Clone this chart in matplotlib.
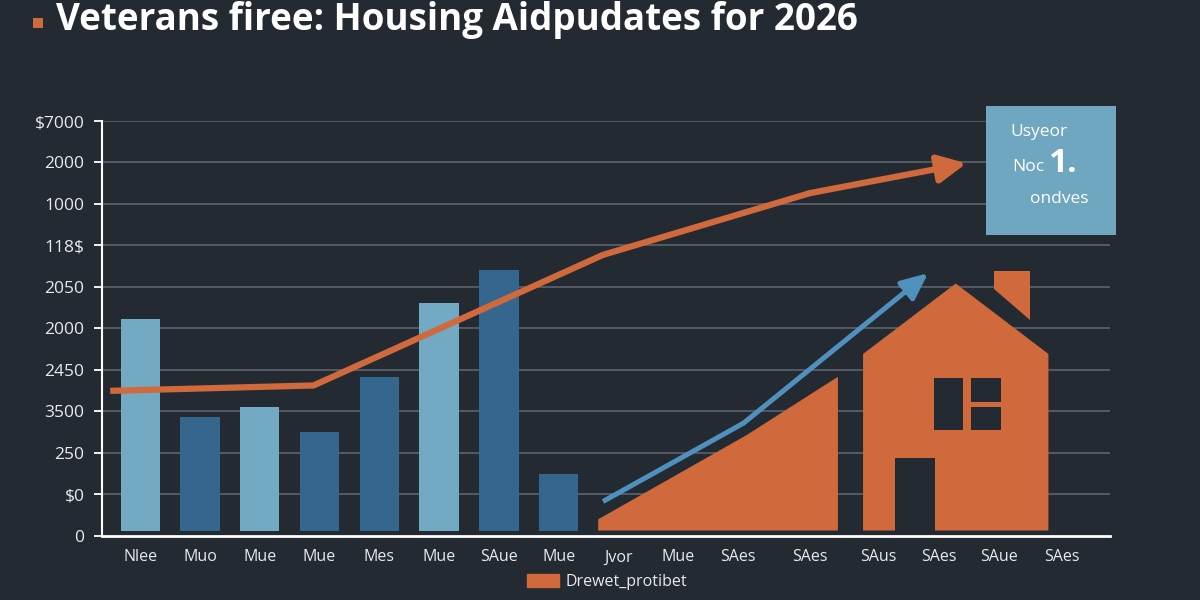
import matplotlib.pyplot as plt
from matplotlib.patches import Rectangle, Polygon, Patch

plt.rcParams["font.family"] = ["Open Sans", "DejaVu Sans"]

# ---- data ----
bar_x = [0, 1, 2, 3, 4, 5, 6, 7]
bar_top = [5.22, 2.87, 3.11, 2.50, 3.82, 5.61, 6.40, 1.49]
bar_shade = ["light", "dark", "light", "dark", "dark", "light", "dark", "dark"]
bar_base = 0.12

y_ticks = [0, 1, 2, 3, 4, 5, 6, 7, 8, 9, 10]
y_labels = ["0", "$0", "250", "3500", "2450", "2000", "2050", "118$", "1000", "2000", "$7000"]

x_ticks = [0, 1, 2, 3, 4, 5, 6, 7, 8, 9, 10, 11.2, 12.34, 13.35, 14.37, 15.41]
x_labels = ["Nlee", "Muo", "Mue", "Mue", "Mes", "Mue", "SAue", "Mue", "Jvor", "Mue",
            "SAes", "SAes", "SAus", "SAes", "SAue", "SAes"]

trend_x = [-0.50, 2.90, 7.74, 11.20, 13.82]
trend_y = [3.49, 3.62, 6.77, 8.26, 8.98]

blue_x = [7.74, 10.09, 13.18]
blue_y = [0.82, 2.71, 6.33]

area_x = [7.66, 7.66, 10.14, 11.67, 11.67]
area_y = [0.12, 0.39, 2.42, 3.83, 0.12]

# house icon
house_x = [12.09, 12.09, 13.64, 15.19, 15.19]
house_y = [0.12, 4.38, 6.08, 4.38, 0.12]
chimney_x = [14.28, 14.28, 14.89, 14.89]
chimney_y = [5.94, 6.39, 6.39, 5.20]
# (x0, x1, y0, y1) cut-outs: window panes and door
cutouts = [(13.28, 13.76, 2.55, 3.79), (13.90, 14.39, 3.23, 3.79),
           (13.90, 14.39, 2.55, 3.11), (12.63, 13.30, 0.12, 1.88)]

title = "Veterans firee: Housing Aidpudates for 2026"
legend_label = "Drewet_protibet"

BG = "#242a32"
ORANGE = "#d0693b"
LIGHT = "#72aac4"
DARK = "#35668e"
BLUE = "#4f90bd"
TXT = "#e8eaec"

fig = plt.figure(figsize=(12, 6), dpi=100, facecolor=BG)
ax = fig.add_axes([0.0853, 0.1075, 0.8397, 0.6908])
ax.set_facecolor(BG)
ax.set_xlim(-0.632, 16.22)
ax.set_ylim(0, 10)

# grid
for y in y_ticks[1:]:
    ax.axhline(y, color="#5c636d", lw=1.2, zorder=1)

# bars
colors = [LIGHT if s == "light" else DARK for s in bar_shade]
ax.bar(bar_x, [t - bar_base for t in bar_top], bottom=bar_base, width=0.657,
       color=colors, zorder=2)

# orange area + house
area = ax.fill(area_x, area_y, color=ORANGE, lw=0, zorder=2)[0]
ax.add_patch(Polygon(list(zip(house_x, house_y)), closed=True, color=ORANGE, lw=0, zorder=2))
ax.add_patch(Polygon(list(zip(chimney_x, chimney_y)), closed=True, color=ORANGE, lw=0, zorder=2))
for x0, x1, y0, y1 in cutouts:
    ax.add_patch(Rectangle((x0, y0), x1 - x0, y1 - y0, color=BG, lw=0, zorder=3))

# trend lines with arrow heads
ax.plot(trend_x[:-1], trend_y[:-1], color=ORANGE, lw=4.5, solid_joinstyle="round",
        solid_capstyle="butt", zorder=4)
ax.annotate("", xy=(trend_x[-1], trend_y[-1]), xytext=(trend_x[-2], trend_y[-2]),
            arrowprops=dict(arrowstyle="-|>,head_length=0.85,head_width=0.42",
                            mutation_scale=20, color=ORANGE, lw=4.5,
                            shrinkA=0, shrinkB=0), zorder=4)
ax.plot(blue_x[:-1], blue_y[:-1], color=BLUE, lw=3.6, solid_joinstyle="round",
        solid_capstyle="butt", zorder=4)
ax.annotate("", xy=(blue_x[-1], blue_y[-1]), xytext=(blue_x[-2], blue_y[-2]),
            arrowprops=dict(arrowstyle="-|>,head_length=0.8,head_width=0.36",
                            mutation_scale=20, color=BLUE, lw=3.6,
                            shrinkA=0, shrinkB=0), zorder=4)

# axes styling
for side in ("top", "right"):
    ax.spines[side].set_visible(False)
ax.spines["left"].set_color("white")
ax.spines["left"].set_linewidth(1.5)
ax.spines["bottom"].set_color("white")
ax.spines["bottom"].set_linewidth(2)
ax.spines["bottom"].set_zorder(5)

ax.set_yticks(y_ticks)
ax.set_yticklabels(y_labels)
ax.tick_params(axis="y", colors="white", labelcolor=TXT, length=5.8, width=1.3,
               pad=7, labelsize=12.5)
ax.set_xticks(x_ticks)
ax.set_xticklabels(x_labels)
ax.tick_params(axis="x", length=0, pad=10, labelcolor=TXT, labelsize=11.5)

# title at the very top, as in the reference (kept fully inside the canvas)
fig.text(56 / 1200, 1 - 30 / 600, title, color="white", fontsize=26.5,
         fontweight="bold", va="baseline", ha="left")
fig.add_artist(Rectangle((33 / 1200, 1 - 28 / 600), 10 / 1200, 10 / 600,
                         transform=fig.transFigure, color=ORANGE, lw=0))

# info box
fig.add_artist(Rectangle((986 / 1200, 1 - 235 / 600), 130 / 1200, 129 / 600,
                         transform=fig.transFigure, color="#6fa7c0", lw=0, zorder=6))
fig.text(1010 / 1200, 1 - 132 / 600, "Usyeor", color="white", fontsize=12.5,
         va="center", ha="left", zorder=7)
fig.text(1012 / 1200, 1 - 167 / 600, "Noc", color="white", fontsize=12.5,
         va="center", ha="left", zorder=7)
fig.text(1049 / 1200, 1 - 163 / 600, "1.", color="white", fontsize=24,
         fontweight="bold", va="center", ha="left", zorder=7)
fig.text(1030 / 1200, 1 - 199 / 600, "ondves", color="white", fontsize=12.5,
         va="center", ha="left", zorder=7)

# legend
fig.legend(handles=[Patch(color=ORANGE, label=legend_label)], loc="center",
           bbox_to_anchor=(607 / 1200, 1 - 582 / 600), frameon=False,
           fontsize=11.5, labelcolor=TXT, handlelength=2.0, handleheight=0.8,
           handletextpad=0.4)

fig.savefig("out.png", dpi=100, facecolor=BG)
